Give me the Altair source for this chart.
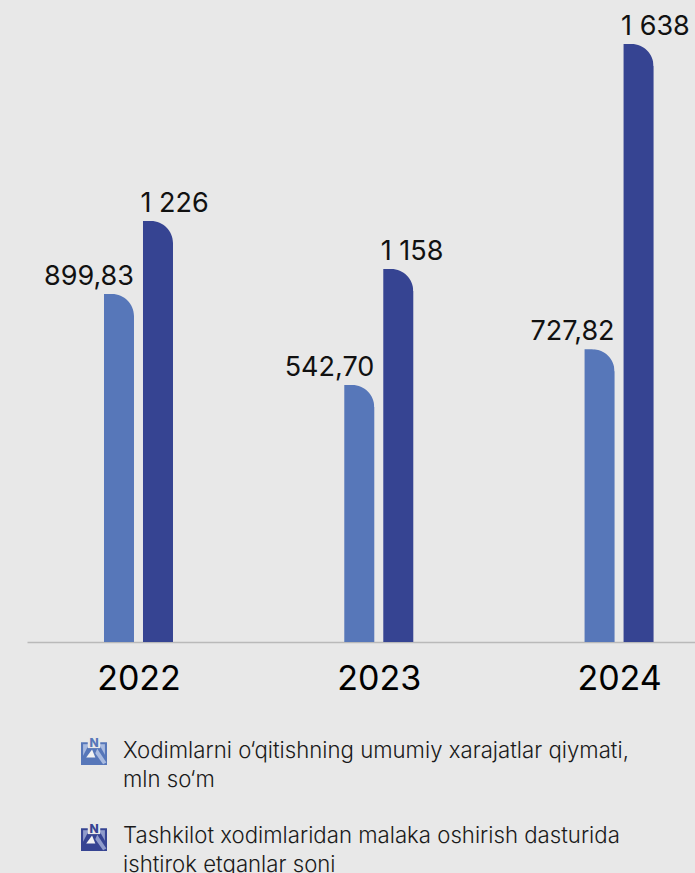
import altair as alt
import pandas as pd

BG = "#e8e8e8"
LIGHT = "#5777b9"
DARK = "#364492"
FONT = "Inter"
PAGE_CSS = "html,body{margin:0;padding:0;background:#e8e8e8;overflow:hidden}"

years = [2022, 2023, 2024]
# Bar heights as drawn in the source graphic (it is not to scale with its printed labels)
light_heights = [953, 704, 802]
dark_heights = [1153, 1022, 1638]
light_labels = ["899,83", "542,70", "727,82"]
dark_labels = ["1 226", "1 158", "1 638"]
legend_lines = [
    "Xodimlarni o\u2018qitishning umumiy xarajatlar qiymati,",
    "mln so\u2018m",
    "Tashkilot xodimlaridan malaka oshirish dasturida",
    "ishtirok etganlar soni",
]
legend_line_y = [751, 780, 836, 865]
icon_y = [752, 838]
icon_colors = [LIGHT, DARK]
icon_pale = ["#a9bbe0", "#8f9bcb"]

df = pd.DataFrame({
    "year": years,
    "light": light_heights,
    "dark": dark_heights,
    "light_label": light_labels,
    "dark_label": dark_labels,
})

x = alt.X("year:Q",
          scale=alt.Scale(domain=[2021.536, 2024.316], nice=False, zero=False, padding=0),
          axis=alt.Axis(values=years, format="d", title=None, ticks=False, grid=False,
                        domainColor="#b9b9b9", domainWidth=1.5,
                        labelFont=FONT, labelFontSize=34, labelColor="#000000",
                        labelPadding=20, labelFontWeight=400, labelFlush=False, labelOverlap=False))
yscale = alt.Scale(domain=[0, 1758.5], nice=False)


def y_enc(field):
    return alt.Y(f"{field}:Q", scale=yscale, axis=None)


# unit-radius concave corner, painted in the background colour to round a bar's top right
CORNER = "M -1 -0.05 L 0.06 -0.05 L 0.06 1 L 0 1 C 0 0.448 -0.448 0 -1 0 Z"
CORNER_SIZE = 4 * 22 ** 2

base = alt.Chart(df)
light_bar = base.mark_bar(width=30, xOffset=-19.5, color=LIGHT).encode(x=x, y=y_enc("light"))
dark_bar = base.mark_bar(width=30, xOffset=19.5, color=DARK).encode(x=x, y=y_enc("dark"))
light_round = base.mark_point(shape=CORNER, size=CORNER_SIZE, filled=True, opacity=1, color=BG, xOffset=-4.5).encode(
    x=x, y=y_enc("light"))
dark_round = base.mark_point(shape=CORNER, size=CORNER_SIZE, filled=True, opacity=1, color=BG, xOffset=34.5).encode(
    x=x, y=y_enc("dark"))

light_text = base.mark_text(font=FONT, fontSize=27, align="right", baseline="middle", xOffset=-4.5, yOffset=-17,
                            color="#111111").encode(x=x, y=y_enc("light"), text="light_label:N")
dark_text = base.mark_text(font=FONT, fontSize=27, align="left", baseline="middle", xOffset=2, yOffset=-17,
                           color="#111111").encode(x=x, y=y_enc("dark"), text="dark_label:N")

legend_df = pd.DataFrame({"t": legend_lines, "py": legend_line_y})
legend_text = alt.Chart(legend_df).mark_text(font=FONT, fontSize=22.2, fontWeight=300, align="left", baseline="middle",
                                             color="#1a1a1a").encode(
    x=alt.value(96), y=alt.Y("py:Q", scale=None), text="t:N")

icon_df = pd.DataFrame({"py": icon_y, "c": icon_colors, "p": icon_pale})
FRAME = "M -1 -0.75 L 1 -0.75 L 1 1 L -1 1 Z"
INNER = "M -0.84 -0.6 L 0.84 -0.6 L 0.84 0.7 L -0.84 0.7 Z"
MOUNTAIN = "M -0.3 -0.75 L 0.3 -0.75 L 1 0.5 L 1 1 L -1 1 L -1 0.6 Z"
BAND = "M 0.25 -0.25 L 0.95 0.8 L 0.7 0.95 L 0.1 0.1 Z"
HOLE = "M -0.15 -0.2 L 0.1 0.42 L -0.6 0.42 Z"
HALO = "M -0.48 -1.08 L 0.48 -1.08 L 0.48 -0.3 L -0.48 -0.3 Z"


def icon_part(shape, color=None, field="c"):
    kw = {"color": color} if color else {}
    mark = alt.Chart(icon_df).mark_point(shape=shape, size=26 ** 2, filled=True, opacity=1, **kw)
    enc = {"x": alt.value(67), "y": alt.Y("py:Q", scale=None)}
    if not color:
        enc["color"] = alt.Color(f"{field}:N", scale=None, legend=None)
    return mark.encode(**enc)


icon_n = alt.Chart(icon_df).mark_text(text="N", font=FONT, fontSize=12, fontWeight=800, align="center", baseline="middle",
                                      yOffset=-9).encode(
    x=alt.value(67), y=alt.Y("py:Q", scale=None), color=alt.Color("c:N", scale=None, legend=None))

chart = alt.layer(
    light_bar, dark_bar, light_round, dark_round, light_text, dark_text, legend_text,
    icon_part(FRAME), icon_part(INNER, field="p"), icon_part(MOUNTAIN), icon_part(BAND, field="p"),
    icon_part(HOLE, "#f2f2f2"), icon_part(HALO, BG), icon_n,
).properties(
    width=668, height=642, background=BG, padding={"left": 27, "top": 0, "right": 0, "bottom": 0},
).configure_view(stroke=None)

chart.save("out.html", embed_options={"renderer": "svg", "actions": False, "defaultStyle": PAGE_CSS})
